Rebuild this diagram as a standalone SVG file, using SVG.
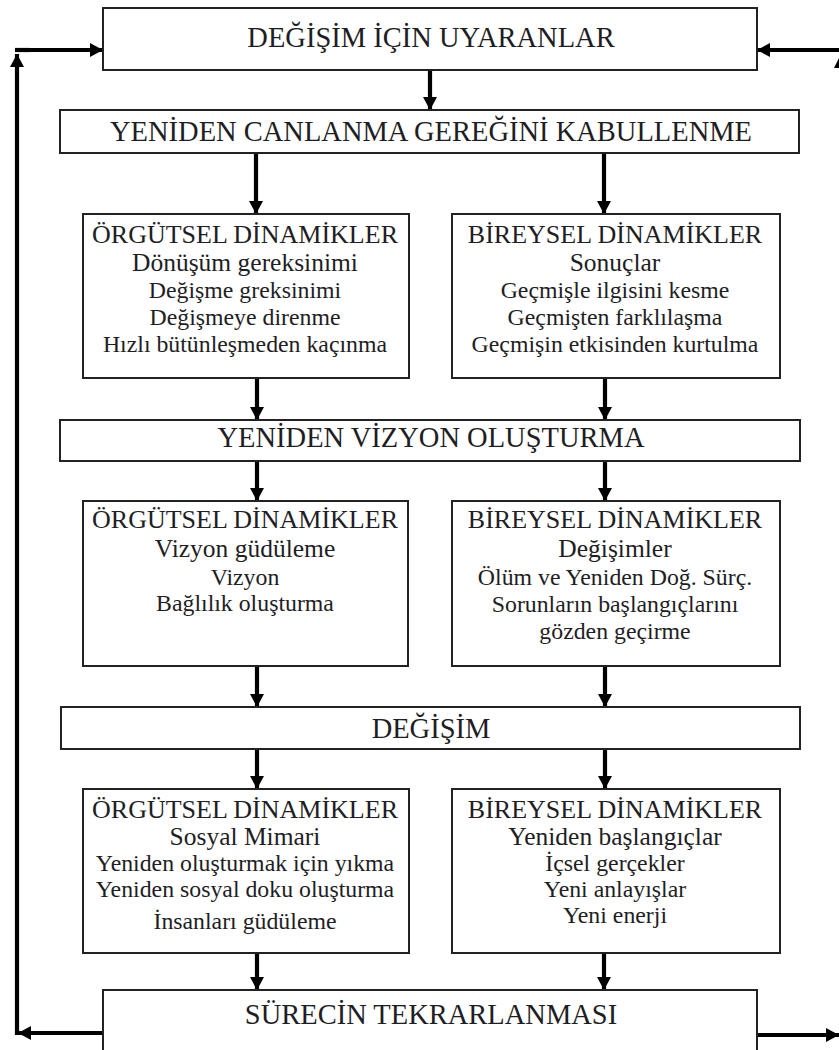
<svg xmlns="http://www.w3.org/2000/svg" width="839" height="1050" viewBox="0 0 839 1050">
<defs>
<style>
.box{fill:#fff;stroke:#222;stroke-width:2}
text{fill:#1e1e24;text-anchor:middle}
.c{stroke:#000;stroke-width:4.2;fill:none;marker-end:url(#ah)}
.l{stroke:#000;stroke-width:4.2;fill:none}
</style>
<marker id="ah" markerUnits="userSpaceOnUse" markerWidth="14" markerHeight="14" refX="13" refY="7" orient="auto">
<path d="M0,0 L13,7 L0,14 z" fill="#000"/>
</marker>
</defs>
<rect width="839" height="1050" fill="#fff"/>
<g id="connectors">
<line class="c" x1="430" y1="70" x2="430" y2="110"/>
<line class="c" x1="256" y1="153" x2="256" y2="214"/>
<line class="c" x1="604" y1="153" x2="604" y2="214"/>
<line class="c" x1="257" y1="378" x2="257" y2="420"/>
<line class="c" x1="605" y1="378" x2="605" y2="420"/>
<line class="c" x1="257" y1="461" x2="257" y2="501"/>
<line class="c" x1="605" y1="461" x2="605" y2="501"/>
<line class="c" x1="257" y1="666" x2="257" y2="707"/>
<line class="c" x1="605" y1="666" x2="605" y2="707"/>
<line class="c" x1="257" y1="749" x2="257" y2="789"/>
<line class="c" x1="605" y1="749" x2="605" y2="789"/>
<line class="c" x1="257" y1="953" x2="257" y2="990"/>
<line class="c" x1="604" y1="953" x2="604" y2="990"/>
<line class="c" x1="103" y1="1033" x2="18" y2="1033"/>
<line class="c" x1="17" y1="1035" x2="17" y2="54"/>
<line class="l" x1="15" y1="50" x2="30" y2="50"/>
<line class="c" x1="17" y1="50" x2="103" y2="50"/>
<line class="c" x1="839" y1="50" x2="757" y2="50"/>
<line class="c" x1="757" y1="1035" x2="839" y2="1035"/>
<path d="M834,68 L841,54 L848,68 z" fill="#000"/>
</g>
<g id="uyaranlar">
<rect class="box" x="103" y="8" width="654" height="62"/>
<text x="431" y="47" font-family="Liberation Serif" font-size="28.5">DEĞİŞİM İÇİN UYARANLAR</text>
</g>
<g id="kabullenme">
<rect class="box" x="60" y="110" width="739" height="43"/>
<text x="431" y="141" font-family="Liberation Serif" font-size="28.5">YENİDEN CANLANMA GEREĞİNİ KABULLENME</text>
</g>
<g id="orgutsel1">
<rect class="box" x="83" y="214" width="326" height="164"/>
<text x="245" y="243" font-family="Liberation Serif" font-size="26">ÖRGÜTSEL DİNAMİKLER</text>
<text x="245" y="271" font-family="Liberation Serif" font-size="25.5">Dönüşüm gereksinimi</text>
<text x="245" y="298" font-family="Liberation Serif" font-size="23.8">Değişme greksinimi</text>
<text x="245" y="325" font-family="Liberation Serif" font-size="23.8">Değişmeye direnme</text>
<text x="245" y="352" font-family="Liberation Serif" font-size="23.8">Hızlı bütünleşmeden kaçınma</text>
</g>
<g id="bireysel1">
<rect class="box" x="452" y="214" width="328" height="164"/>
<text x="615" y="243" font-family="Liberation Serif" font-size="26">BİREYSEL DİNAMİKLER</text>
<text x="615" y="271" font-family="Liberation Serif" font-size="25.5">Sonuçlar</text>
<text x="615" y="298" font-family="Liberation Serif" font-size="23.8">Geçmişle ilgisini kesme</text>
<text x="615" y="325" font-family="Liberation Serif" font-size="23.8">Geçmişten farklılaşma</text>
<text x="615" y="352" font-family="Liberation Serif" font-size="23.8">Geçmişin etkisinden kurtulma</text>
</g>
<g id="vizyon">
<rect class="box" x="60" y="420" width="740" height="41"/>
<text x="431" y="447" font-family="Liberation Serif" font-size="28.5">YENİDEN VİZYON OLUŞTURMA</text>
</g>
<g id="orgutsel2">
<rect class="box" x="83" y="501" width="325" height="165"/>
<text x="245" y="528" font-family="Liberation Serif" font-size="26">ÖRGÜTSEL DİNAMİKLER</text>
<text x="245" y="557" font-family="Liberation Serif" font-size="25.5">Vizyon güdüleme</text>
<text x="245" y="585" font-family="Liberation Serif" font-size="23.8">Vizyon</text>
<text x="245" y="611" font-family="Liberation Serif" font-size="23.8">Bağlılık oluşturma</text>
</g>
<g id="bireysel2">
<rect class="box" x="452" y="501" width="328" height="165"/>
<text x="615" y="528" font-family="Liberation Serif" font-size="26">BİREYSEL DİNAMİKLER</text>
<text x="615" y="557" font-family="Liberation Serif" font-size="25.5">Değişimler</text>
<text x="615" y="585" font-family="Liberation Serif" font-size="23.8">Ölüm ve Yeniden Doğ. Sürç.</text>
<text x="615" y="612" font-family="Liberation Serif" font-size="23.8">Sorunların başlangıçlarını</text>
<text x="615" y="639" font-family="Liberation Serif" font-size="23.8">gözden geçirme</text>
</g>
<g id="degisim">
<rect class="box" x="61" y="707" width="739" height="42"/>
<text x="431" y="738" font-family="Liberation Serif" font-size="28.5">DEĞİŞİM</text>
</g>
<g id="orgutsel3">
<rect class="box" x="83" y="789" width="326" height="164"/>
<text x="245" y="818" font-family="Liberation Serif" font-size="26">ÖRGÜTSEL DİNAMİKLER</text>
<text x="245" y="845" font-family="Liberation Serif" font-size="25.5">Sosyal Mimari</text>
<text x="245" y="871" font-family="Liberation Serif" font-size="23.8">Yeniden oluşturmak için yıkma</text>
<text x="245" y="897" font-family="Liberation Serif" font-size="23.8">Yeniden sosyal doku oluşturma</text>
<text x="245" y="929" font-family="Liberation Serif" font-size="23.8">İnsanları güdüleme</text>
</g>
<g id="bireysel3">
<rect class="box" x="452" y="789" width="328" height="164"/>
<text x="615" y="818" font-family="Liberation Serif" font-size="26">BİREYSEL DİNAMİKLER</text>
<text x="615" y="845" font-family="Liberation Serif" font-size="25.5">Yeniden başlangıçlar</text>
<text x="615" y="871" font-family="Liberation Serif" font-size="23.8">İçsel gerçekler</text>
<text x="615" y="897" font-family="Liberation Serif" font-size="23.8">Yeni anlayışlar</text>
<text x="615" y="923" font-family="Liberation Serif" font-size="23.8">Yeni enerji</text>
</g>
<g id="tekrarlanmasi">
<rect class="box" x="103" y="990" width="654" height="70"/>
<text x="431" y="1024" font-family="Liberation Serif" font-size="28.5">SÜRECİN TEKRARLANMASI</text>
</g>
</svg>
